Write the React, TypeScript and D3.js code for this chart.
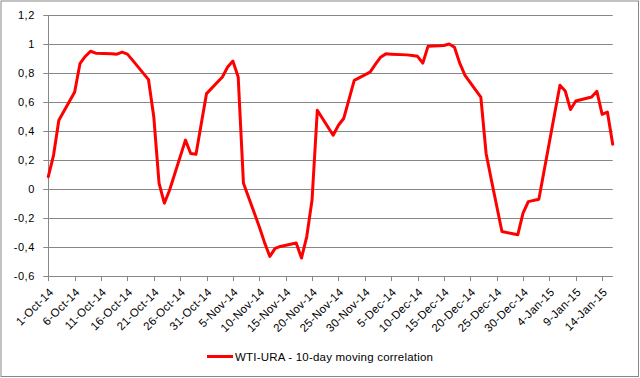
import React from "react";
import * as d3 from "d3";

const dates: string[] = [
  "1-Oct-14", "2-Oct-14", "3-Oct-14", "6-Oct-14", "7-Oct-14", "8-Oct-14", "9-Oct-14", "10-Oct-14",
  "13-Oct-14", "14-Oct-14", "15-Oct-14", "16-Oct-14", "17-Oct-14", "20-Oct-14", "21-Oct-14", "22-Oct-14",
  "23-Oct-14", "24-Oct-14", "27-Oct-14", "28-Oct-14", "29-Oct-14", "30-Oct-14", "31-Oct-14",
  "3-Nov-14", "4-Nov-14", "5-Nov-14", "6-Nov-14", "7-Nov-14", "10-Nov-14", "11-Nov-14", "12-Nov-14",
  "13-Nov-14", "14-Nov-14", "17-Nov-14", "18-Nov-14", "19-Nov-14", "20-Nov-14", "21-Nov-14",
  "24-Nov-14", "25-Nov-14", "26-Nov-14", "28-Nov-14", "1-Dec-14", "2-Dec-14", "3-Dec-14", "4-Dec-14",
  "5-Dec-14", "8-Dec-14", "9-Dec-14", "10-Dec-14", "11-Dec-14", "12-Dec-14", "15-Dec-14", "16-Dec-14",
  "17-Dec-14", "18-Dec-14", "19-Dec-14", "22-Dec-14", "23-Dec-14", "24-Dec-14", "26-Dec-14",
  "29-Dec-14", "30-Dec-14", "31-Dec-14", "2-Jan-15", "5-Jan-15", "6-Jan-15", "7-Jan-15", "8-Jan-15",
  "9-Jan-15", "12-Jan-15", "13-Jan-15", "14-Jan-15", "15-Jan-15", "16-Jan-15",
];

const correlation: number[] = [
  0.085, 0.234, 0.474, 0.669, 0.864, 0.914, 0.95, 0.937,
  0.932, 0.93, 0.944, 0.93, 0.887, 0.754, 0.497, 0.039,
  -0.098, -0.007, 0.337, 0.245, 0.24, 0.45, 0.658,
  0.772, 0.841, 0.882, 0.772, 0.039, -0.26, -0.37, -0.465,
  -0.41, -0.396, -0.373, -0.476, -0.328, -0.076, 0.543,
  0.371, 0.44, 0.486, 0.749, 0.806, 0.86, 0.909, 0.932,
  0.93, 0.925, 0.921, 0.915, 0.868, 0.985, 0.99, 1.0,
  0.978, 0.868, 0.784, 0.634, 0.245, 0.062, -0.293,
  -0.316, -0.167, -0.087, -0.071, 0.52, 0.715, 0.676, 0.548,
  0.607, 0.634, 0.674, 0.515, 0.531, 0.309,
];

const yTicks: number[] = [-0.6, -0.4, -0.2, 0, 0.2, 0.4, 0.6, 0.8, 1, 1.2];
const xTickLabels: string[] = [
  "1-Oct-14", "6-Oct-14", "11-Oct-14", "16-Oct-14", "21-Oct-14", "26-Oct-14", "31-Oct-14",
  "5-Nov-14", "10-Nov-14", "15-Nov-14", "20-Nov-14", "25-Nov-14", "30-Nov-14", "5-Dec-14",
  "10-Dec-14", "15-Dec-14", "20-Dec-14", "25-Dec-14", "30-Dec-14", "4-Jan-15", "9-Jan-15", "14-Jan-15",
];
const seriesName = "WTI-URA - 10-day moving correlation";
const xStart = "1-Oct-14";
const xEnd = "16-Jan-15";

const parse = d3.utcParse("%d-%b-%y");

export default function App() {
  const W = 640, H = 378;
  const left = 48.3, right = 612.7, top = 15, bottom = 276;
  const x = d3.scaleUtc().domain([parse(xStart)!, parse(xEnd)!]).range([left, right]);
  const y = d3.scaleLinear().domain([-0.6, 1.2]).range([bottom, top]);
  const pts = dates.map((d, i) => ({ d: parse(d)!, v: correlation[i] }));
  const line = d3.line<{ d: Date; v: number }>().x((p) => x(p.d)).y((p) => y(p.v));
  const grid = "#878787";
  const font = "'Liberation Sans', Arial, sans-serif";
  const fmt = (v: number) => (Math.round(v * 10) / 10).toString().replace(".", ",");

  return (
    <svg width={W} height={H} style={{ position: "absolute", left: 0, top: 0 }} fontFamily={font}>
      <rect x={0} y={0} width={W} height={H} fill="#fff" />
      <rect x={1} y={1} width={637.5} height={375.5} fill="none" stroke="#868686" strokeWidth={1} />
      {yTicks.map((t) => (
        <g key={t}>
          <line x1={left - 5} x2={right} y1={Math.round(y(t)) + 0.5} y2={Math.round(y(t)) + 0.5} stroke={grid} strokeWidth={1} />
          <text x={35} y={Math.round(y(t)) + 0.5} dy="0.35em" textAnchor="end" fontSize={11} fill="#000" letterSpacing={0.6}>
            {fmt(t)}
          </text>
        </g>
      ))}
      <line x1={Math.round(left) + 0.5} x2={Math.round(left) + 0.5} y1={top} y2={bottom + 0.5} stroke={grid} />
      <line x1={left} x2={right} y1={Math.round(bottom) + 0.5} y2={Math.round(bottom) + 0.5} stroke={grid} />
      {xTickLabels.map((l) => {
        const tx = x(parse(l)!);
        return (
          <g key={l}>
            <line x1={Math.round(tx) + 0.5} x2={Math.round(tx) + 0.5} y1={bottom} y2={bottom + 5} stroke={grid} />
            <text
              transform={`translate(${tx + 3},${bottom + 14}) rotate(-45)`}
              textAnchor="end"
              dy="0.35em"
              fontSize={11.5}
              fill="#000"
              letterSpacing={0.3}
            >
              {l}
            </text>
          </g>
        );
      })}
      <path d={line(pts) ?? ""} fill="none" stroke="#ff0000" strokeWidth={3} strokeLinejoin="round" strokeLinecap="round" />
      <line x1={207} x2={233} y1={356.5} y2={356.5} stroke="#ff0000" strokeWidth={3} />
      <text x={235} y={360.5} fontSize={11.5} fill="#000" letterSpacing={0.2}>
        {seriesName}
      </text>
    </svg>
  );
}
